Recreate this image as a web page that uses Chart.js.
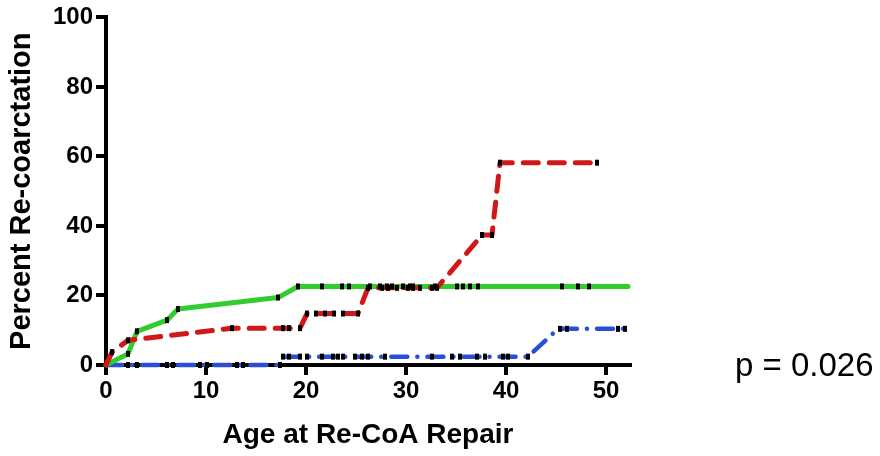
<!DOCTYPE html>
<html>
<head>
<meta charset="utf-8">
<script src="https://cdn.jsdelivr.net/npm/chart.js@4.4.1/dist/chart.umd.min.js"></script>
<style>
  html, body { margin: 0; padding: 0; background: #fff; }
  #wrap { position: relative; width: 880px; height: 456px; }
  #pval {
    position: absolute; left: 735px; top: 346px;
    font: 33px "Liberation Sans", Arial, sans-serif; color: #000;
    white-space: nowrap;
  }
</style>
</head>
<body>
<div id="wrap">
  <canvas id="chart" width="880" height="456"></canvas>
  <div id="pval">p = 0.026</div>
</div>
<script>
// --- curves (age, percent) ---
const greenX = [0, 2.2, 3.1, 6.1, 7.2, 17.2, 19.2, 52.2];
const greenY = [0, 3.2, 9.7, 12.9, 16.1, 19.4, 22.6, 22.6];

const redX = [0, 0.6, 2.2, 12.6, 19.4, 20.1, 25.2, 26.2, 33.1, 37.6, 38.6, 39.4, 49.1];
const redY = [0, 3.7, 7.1, 10.6, 10.6, 14.8, 14.8, 22.2, 22.2, 37.4, 37.4, 58.2, 58.2];

// null = break in the line
const blueX = [0, 17.3, 17.5, 17.7, 42.2, 45.2, 52.1];
const blueY = [0, 0, null, 2.4, 2.4, 10.4, 10.4];

// --- censor marks ---
const greenMarkX = [2.2, 3.1, 6.1, 7.2, 17.2, 19.2, 21.6, 23.6, 24.3, 26.4, 27.4, 28.1, 28.6, 29.7, 30.4, 30.7, 32.9, 35.1, 35.7, 36.4, 37.2, 45.6, 47.2, 48.3];
const greenMarkY = [3.2, 9.7, 12.9, 16.1, 19.4, 22.6, 22.6, 22.6, 22.6, 22.6, 22.6, 22.6, 22.6, 22.6, 22.6, 22.6, 22.6, 22.6, 22.6, 22.6, 22.6, 22.6, 22.6, 22.6];

const redMarkX = [0.6, 2.2, 12.6, 17.7, 18.3, 19.4, 20.1, 21.0, 21.9, 22.8, 23.7, 25.2, 26.2, 27.6, 28.2, 29.1, 30.2, 30.7, 31.4, 32.6, 33.1, 37.6, 38.6, 39.4, 49.1];
const redMarkY = [3.7, 7.1, 10.6, 10.6, 10.6, 10.6, 14.8, 14.8, 14.8, 14.8, 14.8, 14.8, 22.2, 22.2, 22.2, 22.2, 22.2, 22.2, 22.2, 22.2, 22.2, 37.4, 37.4, 58.2, 58.2];

const blueMarkX = [2.2, 3.1, 6.1, 6.7, 9.4, 10.1, 13.1, 13.7, 17.4, 17.7, 18.3, 19.4, 20.1, 21.6, 22.7, 23.2, 23.7, 24.9, 25.6, 26.2, 27.9, 32.6, 34.6, 35.4, 37.1, 37.9, 39.7, 40.2, 42.2, 45.4, 46.1, 51.2, 51.9];
const blueMarkY = [0, 0, 0, 0, 0, 0, 0, 0, 0, 2.4, 2.4, 2.4, 2.4, 2.4, 2.4, 2.4, 2.4, 2.4, 2.4, 2.4, 2.4, 2.4, 2.4, 2.4, 2.4, 2.4, 2.4, 2.4, 2.4, 10.4, 10.4, 10.4, 10.4];

const xTicks = [0, 10, 20, 30, 40, 50];
const yTicks = [0, 20, 40, 60, 80, 100];

const pts = (xs, ys) => xs.map((x, i) => ({ x: x, y: ys[i] }));

const FONT = '"Liberation Sans", Arial, sans-serif';

const lineSet = (xs, ys, color, width, dash, order) => ({
    type: 'line',
    data: pts(xs, ys),
    borderColor: color,
    borderWidth: width,
    borderDash: dash,
    borderCapStyle: 'round',
    borderJoinStyle: 'round',
    pointRadius: 0,
    spanGaps: false,
    tension: 0,
    clip: false,
    order: order
});

const markSet = (xs, ys) => ({
    type: 'scatter',
    data: pts(xs, ys),
    pointStyle: 'line',
    rotation: 90,
    radius: 3,
    borderWidth: 4,
    borderColor: '#000',
    backgroundColor: '#000',
    clip: false,
    order: 0
});

new Chart(document.getElementById('chart'), {
    data: {
        datasets: [
            lineSet(redX, redY, '#d01818', 5, [15, 11], 1),
            lineSet(greenX, greenY, '#33cc2e', 5, [], 2),
            lineSet(blueX, blueY, '#2a4fd6', 4.5, [16, 10, 0.1, 10], 3),
            markSet(greenMarkX, greenMarkY),
            markSet(redMarkX, redMarkY),
            markSet(blueMarkX, blueMarkY)
        ]
    },
    options: {
        responsive: false,
        animation: false,
        layout: { padding: { left: 0, top: 15, right: 250, bottom: 0 } },
        plugins: { legend: { display: false }, tooltip: { enabled: false } },
        scales: {
            x: {
                type: 'linear',
                min: 0, max: 52.4,
                afterBuildTicks: s => { s.ticks = xTicks.map(v => ({ value: v })); },
                afterFit: s => { s.height = 91; },
                border: { display: true, color: '#000', width: 4 },
                grid: { drawOnChartArea: false, drawTicks: true, tickLength: 10, color: '#000', lineWidth: 4 },
                ticks: { color: '#000', padding: 2, font: { family: FONT, size: 24, weight: 'bold' } },
                title: {
                    display: true, text: 'Age at Re-CoA Repair', color: '#000',
                    font: { family: FONT, size: 28, weight: 'bold' },
                    padding: { top: 0, bottom: 4 }
                }
            },
            y: {
                type: 'linear',
                min: 0, max: 100,
                afterBuildTicks: s => { s.ticks = yTicks.map(v => ({ value: v })); },
                afterFit: s => { s.width = 106; },
                border: { display: true, color: '#000', width: 4 },
                grid: { drawOnChartArea: false, drawTicks: true, tickLength: 10, color: '#000', lineWidth: 4 },
                ticks: { color: '#000', padding: 3, font: { family: FONT, size: 24, weight: 'bold' } },
                title: {
                    display: true, text: 'Percent Re-coarctation', color: '#000',
                    font: { family: FONT, size: 29, weight: 'bold' },
                    padding: { top: 5, bottom: 0 }
                }
            }
        }
    }
});
</script>
</body>
</html>
